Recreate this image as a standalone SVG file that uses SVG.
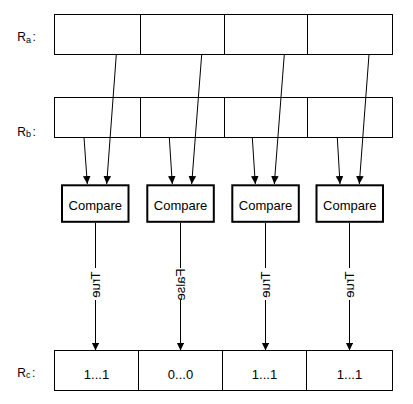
<svg xmlns="http://www.w3.org/2000/svg" width="413" height="404" viewBox="0 0 413 404">
<style>
text{font-family:"Liberation Sans",Arial,sans-serif;fill:#000}
.lbl{font-size:12px}
.sub{font-size:9px}
.t13{font-size:13px;text-anchor:middle}
.reg{fill:#fff;stroke:#000;stroke-width:1}
.div{stroke:#000;stroke-width:1}
.cmp{fill:#fff;stroke:#000;stroke-width:2}
.con{stroke:#000;stroke-width:1;fill:none}
</style>
<defs>
<marker id="ah" markerUnits="userSpaceOnUse" markerWidth="9" markerHeight="9" refX="8" refY="3.8" orient="auto">
<path d="M0,0 L8,3.8 L0,7.6 z" fill="#000"/>
</marker>
</defs>
<rect width="413" height="404" fill="#fff"/>

<g id="Ra">
<text class="lbl" x="17.3" y="41">R<tspan class="sub" dy="1.5">a</tspan><tspan class="lbl" dy="-1.5" dx="1.5">:</tspan></text>
<rect class="reg" x="54.5" y="14.5" width="338" height="40"/>
<line class="div" x1="140.5" y1="14.5" x2="140.5" y2="54.5"/>
<line class="div" x1="224.5" y1="14.5" x2="224.5" y2="54.5"/>
<line class="div" x1="307.5" y1="14.5" x2="307.5" y2="54.5"/>
</g>

<g id="Rb">
<text class="lbl" x="17.3" y="136">R<tspan class="sub" dy="1">b</tspan><tspan class="lbl" dy="-1" dx="1.5">:</tspan></text>
<rect class="reg" x="54.5" y="97.5" width="338" height="40"/>
<line class="div" x1="140.5" y1="97.5" x2="140.5" y2="137.5"/>
<line class="div" x1="224.5" y1="97.5" x2="224.5" y2="137.5"/>
<line class="div" x1="307.5" y1="97.5" x2="307.5" y2="137.5"/>
</g>

<g id="connectors">
<line class="con" x1="116.3" y1="54.5" x2="106.7" y2="184" marker-end="url(#ah)"/>
<line class="con" x1="201.7" y1="54.5" x2="191.7" y2="184" marker-end="url(#ah)"/>
<line class="con" x1="284.3" y1="54.5" x2="274.3" y2="184" marker-end="url(#ah)"/>
<line class="con" x1="369" y1="54.5" x2="359.3" y2="184" marker-end="url(#ah)"/>
<line class="con" x1="84" y1="137.5" x2="87.3" y2="184" marker-end="url(#ah)"/>
<line class="con" x1="169.3" y1="137.5" x2="172.3" y2="184" marker-end="url(#ah)"/>
<line class="con" x1="252.3" y1="137.5" x2="255.3" y2="184" marker-end="url(#ah)"/>
<line class="con" x1="337.3" y1="137.5" x2="340" y2="184" marker-end="url(#ah)"/>

<line class="con" x1="95.5" y1="223" x2="95.5" y2="268"/>
<line class="con" x1="95.5" y1="300" x2="95.5" y2="350.5" marker-end="url(#ah)"/>
<line class="con" x1="180.5" y1="223" x2="180.5" y2="268"/>
<line class="con" x1="180.5" y1="300" x2="180.5" y2="350.5" marker-end="url(#ah)"/>
<line class="con" x1="265.5" y1="223" x2="265.5" y2="268"/>
<line class="con" x1="265.5" y1="300" x2="265.5" y2="350.5" marker-end="url(#ah)"/>
<line class="con" x1="349.5" y1="223" x2="349.5" y2="268"/>
<line class="con" x1="349.5" y1="300" x2="349.5" y2="350.5" marker-end="url(#ah)"/>

<text class="t13" transform="translate(95.5,284.5) rotate(90) scale(1,-1)" x="0" y="4.6">True</text>
<text class="t13" transform="translate(180.5,284.5) rotate(90) scale(1,-1)" x="0" y="4.6">False</text>
<text class="t13" transform="translate(265.5,284.5) rotate(90) scale(1,-1)" x="0" y="4.6">True</text>
<text class="t13" transform="translate(349.5,284.5) rotate(90) scale(1,-1)" x="0" y="4.6">True</text>
</g>

<g id="cmp1">
<rect class="cmp" x="62" y="185.3" width="66.5" height="36.5"/>
<text class="t13" x="95.25" y="210">Compare</text>
</g>
<g id="cmp2">
<rect class="cmp" x="147.3" y="185.3" width="66.5" height="36.5"/>
<text class="t13" x="180.55" y="210">Compare</text>
</g>
<g id="cmp3">
<rect class="cmp" x="232.3" y="185.3" width="66.5" height="36.5"/>
<text class="t13" x="265.55" y="210">Compare</text>
</g>
<g id="cmp4">
<rect class="cmp" x="316.5" y="185.3" width="66.5" height="36.5"/>
<text class="t13" x="349.75" y="210">Compare</text>
</g>

<g id="Rc">
<text class="lbl" x="17.3" y="376.7">R<tspan class="sub" dy="1.5">c</tspan><tspan class="lbl" dy="-1.5" dx="1.5">:</tspan></text>
<rect class="reg" x="54.5" y="350.5" width="338" height="40"/>
<line class="div" x1="138.5" y1="350.5" x2="138.5" y2="390.5"/>
<line class="div" x1="222.5" y1="350.5" x2="222.5" y2="390.5"/>
<line class="div" x1="306.5" y1="350.5" x2="306.5" y2="390.5"/>
<text class="t13" x="96.5" y="379.3">1...1</text>
<text class="t13" x="180.5" y="379.3">0...0</text>
<text class="t13" x="264.5" y="379.3">1...1</text>
<text class="t13" x="349.5" y="379.3">1...1</text>
</g>
</svg>
